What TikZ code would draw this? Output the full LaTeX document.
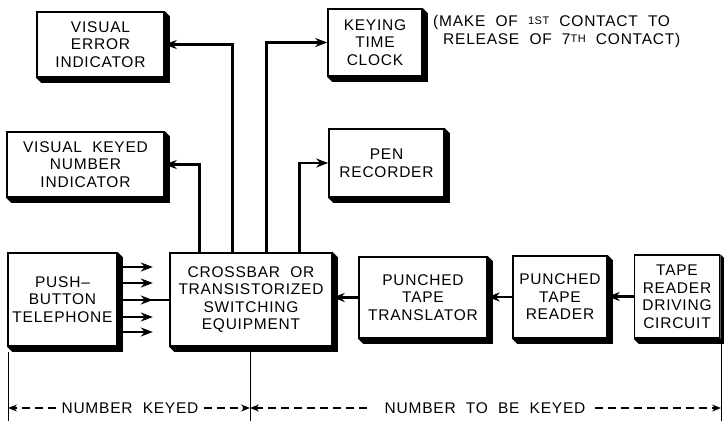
\documentclass[tikz,border=0pt]{standalone}
\usepackage{fontspec}
\setmainfont{Liberation Sans}[LetterSpace=5]
\usetikzlibrary{arrows.meta,calc}
\newcommand\shadowof[1]{\fill (#1.north east) -- ([shift={(5,5)}]#1.north east) -- ([shift={(5,5)}]#1.south east) -- ([shift={(5,5)}]#1.south west) -- (#1.south west) -- (#1.south east) -- cycle;}
\begin{document}
\begin{tikzpicture}[x=1pt,y=-1pt,
 blk/.style={draw, line width=1.6pt, fill=white, align=center, inner sep=0pt, font=\fontsize{15.5}{17.5}\selectfont},
 arr/.style={line width=2.8pt, -{Stealth[length=12pt,width=9pt]}},
 ln/.style={line width=2.8pt},
 dim/.style={line width=1.3pt, dash pattern=on 8pt off 5pt, -{Stealth[length=9pt,width=7pt]}},
 tick/.style={line width=1pt},
 lbl/.style={font=\fontsize{15.5}{17.5}\selectfont, inner sep=1pt}]
\useasboundingbox (0,0) rectangle (724,421);
% boxes
\node[blk, minimum width=127pt, minimum height=65pt] (vei) at (100.5,44.5) {VISUAL\\ERROR\\INDICATOR};
\shadowof{vei}
\node[blk, minimum width=94pt, minimum height=67pt] (ktc) at (375,42.5) {KEYING\\TIME\\CLOCK};
\shadowof{ktc}
\node[blk, minimum width=157pt, minimum height=65pt] (vkni) at (85.5,164.5) {VISUAL\ \ KEYED\\NUMBER\\INDICATOR};
\shadowof{vkni}
\node[blk, minimum width=115pt, minimum height=68pt] (pen) at (386.5,163) {PEN\\RECORDER};
\shadowof{pen}
\node[blk, minimum width=109pt, minimum height=93pt] (pbt) at (62.5,299.5) {PUSH--\\BUTTON\\TELEPHONE};
\shadowof{pbt}
\node[blk, minimum width=162pt, minimum height=93pt] (cb) at (251,299.5) {CROSSBAR\ \ OR\\TRANSISTORIZED\\SWITCHING\\EQUIPMENT};
\shadowof{cb}
\node[blk, minimum width=128pt, minimum height=81pt] (ptt) at (423,297.5) {PUNCHED\\TAPE\\TRANSLATOR};
\shadowof{ptt}
\node[blk, minimum width=94pt, minimum height=82pt] (ptr) at (560,297) {PUNCHED\\TAPE\\READER};
\shadowof{ptr}
\node[blk, minimum width=85pt, minimum height=83pt] (trdc) at (677,296.5) {TAPE\\READER\\DRIVING\\CIRCUIT};
\shadowof{trdc}
% note
\node[lbl, anchor=west, align=left] (note) at (432,31.5) {(MAKE\ \ OF\ \ \raisebox{2pt}{\fontsize{11}{11}\selectfont 1ST}\ \ CONTACT\ \ TO\\\hspace{10pt}RELEASE\ \ OF\ \ 7\raisebox{1.5pt}{\fontsize{11}{11}\selectfont TH}\ \ CONTACT)};
% connectors from crossbar
\draw[arr] ([xshift=30pt]cb.north west) |- (vkni.east);
\draw[arr] ([xshift=63pt]cb.north west) |- (vei.east);
\draw[arr] ([xshift=97pt]cb.north west) |- (ktc.west);
\draw[arr] ([xshift=130pt]cb.north west) |- (pen.west);
% push-button outputs
\draw[ln] (pbt.east |- 0,300) -- (cb.west |- 0,300);
\foreach \yy in {267,283,300,317,332}
  \draw[arr] (pbt.east |- 0,\yy) -- ++(35,0);
% right chain
\draw[arr] (trdc.west) -- (ptr.east |- trdc.west);
\draw[arr] (ptr.west) -- (ptt.east |- ptr.west);
\draw[arr] (ptt.west) -- (cb.east |- ptt.west);
% dimension
\coordinate (t1) at (8,408);
\coordinate (t2) at (250,408);
\coordinate (t3) at (721,408);
\draw[tick] (8,352) -- (8,421);
\draw[tick] (250,352) -- (250,421);
\draw[tick] (721,342) -- (721,421);
\node[lbl] (nk) at (130,408) {NUMBER\ \ KEYED};
\node[lbl] (ntbk) at (485,408) {NUMBER\ \ TO\ \ BE\ \ KEYED};
\draw[dim] ([xshift=-4pt]nk.west) -- (t1);
\draw[dim] ([xshift=4pt]nk.east) -- (t2);
\draw[dim] ([xshift=-16pt]ntbk.west) -- (t2);
\draw[dim] ([xshift=8pt]ntbk.east) -- (t3);
\end{tikzpicture}
\end{document}
